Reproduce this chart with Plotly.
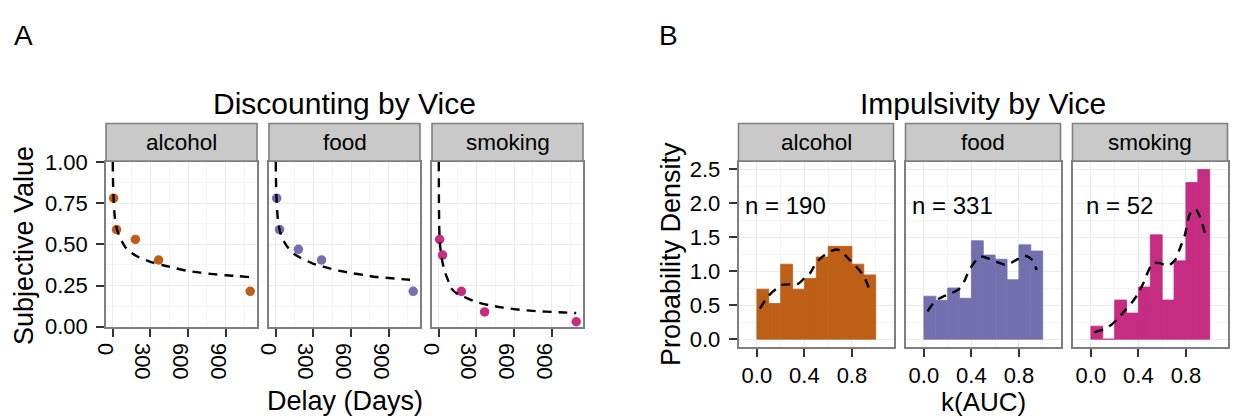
import plotly.graph_objects as go

# ---------------- data ----------------
vices = ["alcohol", "food", "smoking"]
vice_colors = ["#BD5F17", "#7470AF", "#C52C82"]

# Panel A: observed subjective values at each delay (days)
delays = [7, 30, 180, 365, 1095]
alcohol_sv = [0.78, 0.59, 0.53, 0.405, 0.215]
food_sv = [0.78, 0.59, 0.47, 0.405, 0.215]
smoking_sv = [0.53, 0.435, 0.215, 0.09, 0.03]

# Panel A: fitted discounting curves
curve_days = [0, 1, 3, 7, 15, 30, 50, 75, 100, 150, 200, 300, 400, 500, 600, 700, 800, 900, 1000, 1095]
alcohol_curve = [1.0, 0.93, 0.85, 0.77, 0.675, 0.60, 0.555, 0.515, 0.483, 0.448, 0.425, 0.394, 0.373, 0.355, 0.338, 0.328, 0.319, 0.312, 0.307, 0.300]
food_curve = [1.0, 0.93, 0.845, 0.76, 0.665, 0.59, 0.54, 0.505, 0.478, 0.44, 0.417, 0.382, 0.36, 0.34, 0.326, 0.314, 0.302, 0.296, 0.289, 0.284]
smoking_curve = [1.0, 0.80, 0.63, 0.53, 0.46, 0.39, 0.33, 0.28, 0.233, 0.198, 0.182, 0.149, 0.131, 0.117, 0.107, 0.099, 0.093, 0.090, 0.086, 0.083]

# Panel B: histogram densities, bins of width 0.1 on k(AUC)
bin_centers = [0.05, 0.15, 0.25, 0.35, 0.45, 0.55, 0.65, 0.75, 0.85, 0.95]
alcohol_density = [0.737, 0.526, 1.105, 0.737, 0.895, 1.211, 1.368, 1.368, 1.105, 0.947]
food_density = [0.634, 0.574, 0.755, 0.604, 1.450, 1.239, 1.178, 0.876, 1.390, 1.299]
smoking_density = [0.192, 0.0, 0.577, 0.385, 0.769, 1.538, 0.577, 1.154, 2.308, 2.500]

# Panel B: density (dashed) lines
alcohol_kde_x = [0.025, 0.08, 0.12, 0.17, 0.21, 0.28, 0.35, 0.40, 0.45, 0.50, 0.57, 0.64, 0.68, 0.71, 0.78, 0.83, 0.90, 0.955]
alcohol_kde_y = [0.45, 0.60, 0.68, 0.75, 0.80, 0.81, 0.82, 0.90, 0.98, 1.13, 1.24, 1.31, 1.32, 1.29, 1.17, 1.08, 0.93, 0.70]
food_kde_x = [0.03, 0.08, 0.13, 0.22, 0.29, 0.345, 0.375, 0.42, 0.47, 0.54, 0.61, 0.70, 0.75, 0.80, 0.84, 0.87, 0.91, 0.95]
food_kde_y = [0.41, 0.53, 0.60, 0.67, 0.73, 0.87, 1.0, 1.12, 1.22, 1.19, 1.14, 1.09, 1.14, 1.19, 1.23, 1.22, 1.17, 1.02]
smoking_kde_x = [0.03, 0.10, 0.17, 0.23, 0.29, 0.34, 0.39, 0.44, 0.47, 0.52, 0.58, 0.65, 0.71, 0.75, 0.79, 0.83, 0.87, 0.89, 0.93, 0.96]
smoking_kde_y = [0.10, 0.14, 0.21, 0.31, 0.43, 0.53, 0.65, 0.82, 0.95, 1.12, 1.12, 1.08, 1.17, 1.34, 1.53, 1.83, 1.92, 1.90, 1.75, 1.56]

sample_sizes = [190, 331, 52]

a_x_ticks = [0, 300, 600, 900]
a_y_ticks = [0.0, 0.25, 0.5, 0.75, 1.0]
b_x_ticks = [0.0, 0.4, 0.8]
b_y_ticks = [0.0, 0.5, 1.0, 1.5, 2.0, 2.5]

# ---------------- layout helpers ----------------
W, H = 1235, 418
FONT = "Liberation Sans, Arial, Helvetica, sans-serif"


def fx(p):
    return p / W


def fy(p):
    return 1 - p / H


A_panels = [(106, 257), (269, 420), (432, 583)]
B_panels = [(738.5, 893.5), (905.5, 1060.5), (1072.5, 1227.5)]
A_top, A_bot = 162, 326.7
B_top, B_bot = 162, 346.7
STRIP_TOP, STRIP_BOT = 123.5, 161

sv_lists = [alcohol_sv, food_sv, smoking_sv]
curve_lists = [alcohol_curve, food_curve, smoking_curve]
dens_lists = [alcohol_density, food_density, smoking_density]
kde_x_lists = [alcohol_kde_x, food_kde_x, smoking_kde_x]
kde_y_lists = [alcohol_kde_y, food_kde_y, smoking_kde_y]

fig = go.Figure()
layout = dict(
    width=W, height=H, autosize=False,
    margin=dict(l=0, r=0, t=0, b=0, pad=0, autoexpand=False),
    paper_bgcolor="white", plot_bgcolor="white",
    showlegend=False,
    font=dict(family=FONT, color="black"),
)

common_axis = dict(
    automargin=False,
    showline=True, mirror=True, linecolor="#7F7F7F", linewidth=1.6,
    showgrid=True, gridcolor="#EBEBEB", gridwidth=1.2,
    zeroline=False, ticklen=8, tickwidth=2, tickcolor="#333333",
    tickfont=dict(family=FONT, size=22, color="black"),
)

DASH = dict(color="black", width=2.4, dash="9px,7px", shape="spline", smoothing=0.6)

shapes = []
annotations = []

for i, vice in enumerate(vices):
    # ---------- Panel A ----------
    n = i + 1
    xa, ya = ("x" if n == 1 else f"x{n}"), ("y" if n == 1 else f"y{n}")
    fig.add_trace(go.Scatter(
        x=delays, y=sv_lists[i], mode="markers",
        marker=dict(color=vice_colors[i], size=9.5, line=dict(width=0)),
        xaxis=xa, yaxis=ya, cliponaxis=False))
    fig.add_trace(go.Scatter(
        x=curve_days, y=curve_lists[i], mode="lines", line=DASH,
        xaxis=xa, yaxis=ya))
    x0, x1 = A_panels[i]
    layout[f"xaxis{n}"] = dict(
        common_axis, domain=[fx(x0), fx(x1)], anchor=ya, range=[-54, 1149],
        tickvals=a_x_ticks, ticks="outside", tickangle=90,
        ticklabelshift=-8, ticklabelstandoff=2,
        minor=dict(dtick=150, tick0=0, showgrid=True, gridcolor="#F5F5F5", gridwidth=1),
    )
    layout[f"yaxis{n}"] = dict(
        common_axis, domain=[fy(A_bot), fy(A_top)], anchor=xa, range=[0, 1],
        tickvals=a_y_ticks, tickformat=".2f", ticklabelstandoff=4,
        ticks="outside" if i == 0 else "", showticklabels=(i == 0),
        minor=dict(dtick=0.125, tick0=0, showgrid=True, gridcolor="#F5F5F5", gridwidth=1),
    )
    shapes.append(dict(type="rect", xref="paper", yref="paper",
                       x0=fx(x0), x1=fx(x1), y0=fy(STRIP_BOT), y1=fy(STRIP_TOP),
                       fillcolor="#C9C9C9", line=dict(color="#7F7F7F", width=1.6)))
    annotations.append(dict(text=vice, xref="paper", yref="paper",
                            x=fx((x0 + x1) / 2), y=fy((STRIP_TOP + STRIP_BOT) / 2),
                            showarrow=False, font=dict(size=22.5, color="black"),
                            xanchor="center", yanchor="middle"))

    # ---------- Panel B ----------
    m = i + 4
    xb, yb = f"x{m}", f"y{m}"
    fig.add_trace(go.Bar(
        x=bin_centers, y=dens_lists[i], width=0.1,
        marker=dict(color=vice_colors[i], line=dict(width=0.8, color=vice_colors[i])),
        xaxis=xb, yaxis=yb))
    fig.add_trace(go.Scatter(
        x=kde_x_lists[i], y=kde_y_lists[i], mode="lines", line=DASH,
        xaxis=xb, yaxis=yb))
    bx0, bx1 = B_panels[i]
    layout[f"xaxis{m}"] = dict(
        common_axis, domain=[fx(bx0), fx(bx1)], anchor=yb, range=[-0.155, 1.15],
        tickvals=b_x_ticks, tickformat=".1f", ticks="outside",
        minor=dict(tickvals=[0.2, 0.6, 1.0], showgrid=True, gridcolor="#F3F3F3", gridwidth=1),
    )
    layout[f"yaxis{m}"] = dict(
        common_axis, domain=[fy(B_bot), fy(B_top)], anchor=xb, range=[-0.11, 2.61],
        tickvals=b_y_ticks, tickformat=".1f", ticklabelstandoff=4,
        ticks="outside" if i == 0 else "", showticklabels=(i == 0),
        minor=dict(dtick=0.25, tick0=0, showgrid=True, gridcolor="#F5F5F5", gridwidth=1),
    )
    shapes.append(dict(type="rect", xref="paper", yref="paper",
                       x0=fx(bx0), x1=fx(bx1), y0=fy(STRIP_BOT), y1=fy(STRIP_TOP),
                       fillcolor="#C9C9C9", line=dict(color="#7F7F7F", width=1.6)))
    annotations.append(dict(text=vice, xref="paper", yref="paper",
                            x=fx((bx0 + bx1) / 2), y=fy((STRIP_TOP + STRIP_BOT) / 2),
                            showarrow=False, font=dict(size=22.5, color="black"),
                            xanchor="center", yanchor="middle"))
    annotations.append(dict(text=f"n = {sample_sizes[i]}", xref=xb, yref=yb,
                            x=0.24, y=1.97, showarrow=False,
                            font=dict(size=24, color="black"),
                            xanchor="center", yanchor="middle"))

# titles, labels
annotations += [
    dict(text="A", xref="paper", yref="paper", x=fx(23), y=fy(35), showarrow=False,
         font=dict(size=28), xanchor="center", yanchor="middle"),
    dict(text="B", xref="paper", yref="paper", x=fx(668), y=fy(35), showarrow=False,
         font=dict(size=28), xanchor="center", yanchor="middle"),
    dict(text="Discounting by Vice", xref="paper", yref="paper", x=fx(344.5), y=fy(103),
         showarrow=False, font=dict(size=30), xanchor="center", yanchor="middle"),
    dict(text="Impulsivity by Vice", xref="paper", yref="paper", x=fx(983), y=fy(103),
         showarrow=False, font=dict(size=30), xanchor="center", yanchor="middle"),
    dict(text="Delay (Days)", xref="paper", yref="paper", x=fx(344.5), y=fy(401),
         showarrow=False, font=dict(size=27), xanchor="center", yanchor="middle"),
    dict(text="k(AUC)", xref="paper", yref="paper", x=fx(983), y=fy(402),
         showarrow=False, font=dict(size=26), xanchor="center", yanchor="middle"),
    dict(text="Subjective Value", xref="paper", yref="paper", x=fx(24), y=fy(246),
         showarrow=False, font=dict(size=27), textangle=-90, xanchor="center", yanchor="middle"),
    dict(text="Probability Density", xref="paper", yref="paper", x=fx(671), y=fy(254),
         showarrow=False, font=dict(size=27), textangle=-90, xanchor="center", yanchor="middle"),
]

layout["shapes"] = shapes
layout["annotations"] = annotations
fig.update_layout(**layout)
fig.write_html("out.html", config={"displayModeBar": False},
               post_script="document.body.style.margin='0';")
